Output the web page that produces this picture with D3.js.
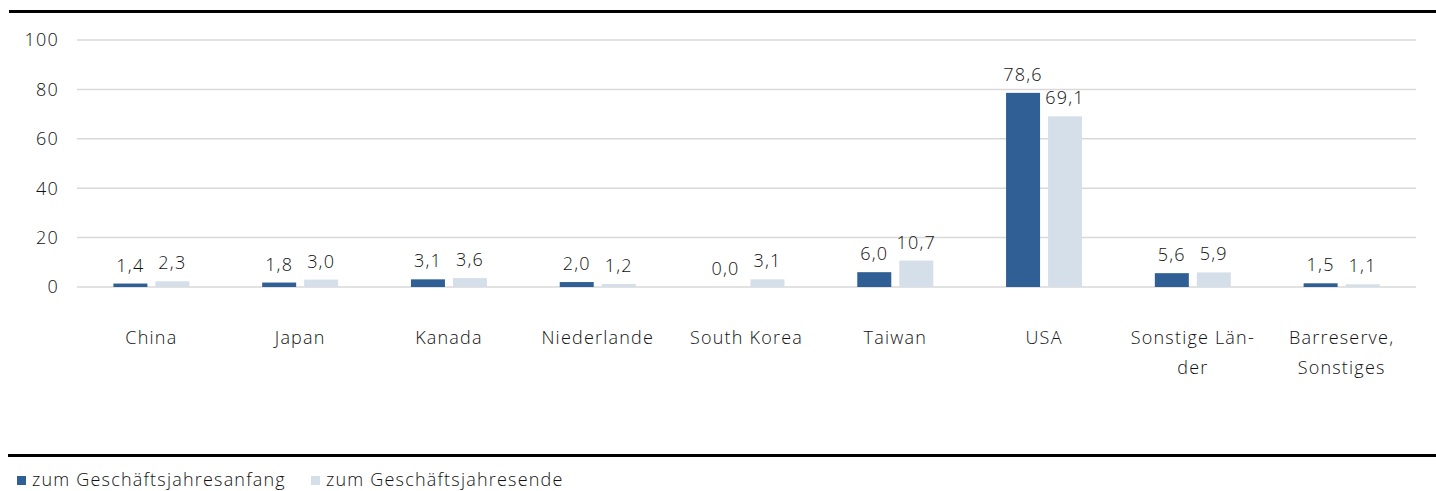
<!DOCTYPE html>
<html>
<head>
<meta charset="utf-8">
<script src="https://cdn.jsdelivr.net/npm/d3@7"></script>
<style>
  body { margin: 0; background: #fff; }
  text { font-family: "Open Sans", "Noto Sans", sans-serif; font-weight: 300; fill: #111; letter-spacing: 1.2px; }
</style>
</head>
<body>
<div id="chart"></div>
<script>
"use strict";

var categories = ["China", "Japan", "Kanada", "Niederlande", "South Korea", "Taiwan", "USA", "Sonstige Län-|der", "Barreserve,|Sonstiges"];
var seriesNames = ["zum Geschäftsjahresanfang", "zum Geschäftsjahresende"];
var valuesStart = [1.4, 1.8, 3.1, 2.0, 0.0, 6.0, 78.6, 5.6, 1.5];
var valuesEnd = [2.3, 3.0, 3.6, 1.2, 3.1, 10.7, 69.1, 5.9, 1.1];
var yTicks = [0, 20, 40, 60, 80, 100];
var colors = ["#2f5f94", "#d5dfea"];

var width = 1436;
var height = 491;
var margin = {top: 40, right: 20, bottom: 204, left: 77};

var svg = d3.select("#chart").append("svg")
	.attr("width", width)
	.attr("height", height);

var fmt = function(v) { return d3.format(".1f")(v).replace(".", ","); };

// black rules top and bottom
svg.append("rect").attr("x", 9).attr("y", 10).attr("width", width - 9).attr("height", 3).attr("fill", "#000");
svg.append("rect").attr("x", 8).attr("y", 454).attr("width", width - 8).attr("height", 3).attr("fill", "#000");

var x = d3.scaleBand()
	.domain(categories)
	.range([margin.left, 1416]);

var y = d3.scaleLinear()
	.domain([0, 100])
	.range([287, 40]);

var g = svg.append("g");

g.selectAll("line.grid")
	.data(yTicks)
	.enter()
	.append("line")
	.attr("class", "grid")
	.attr("x1", margin.left)
	.attr("x2", 1416)
	.attr("y1", function(d) { return y(d); })
	.attr("y2", function(d) { return y(d); })
	.attr("stroke", "#d9d9d9")
	.attr("stroke-width", 1.5);

g.selectAll("text.ytick")
	.data(yTicks)
	.enter()
	.append("text")
	.attr("class", "ytick")
	.attr("x", 59)
	.attr("y", function(d) { return y(d); })
	.attr("dy", "0.35em")
	.attr("text-anchor", "end")
	.style("font-size", "18px")
	.text(function(d) { return d; });

var barW = 34, gap = 8;
var series = [valuesStart, valuesEnd];

series.forEach(function(vals, si) {
	var off = si === 0 ? -gap / 2 - barW : gap / 2;
	g.selectAll("rect.s" + si)
		.data(vals)
		.enter()
		.append("rect")
		.attr("class", "s" + si)
		.attr("x", function(d, i) { return x(categories[i]) + x.bandwidth() / 2 + off; })
		.attr("y", function(d) { return y(d); })
		.attr("width", barW)
		.attr("height", function(d) { return y(0) - y(d); })
		.attr("fill", colors[si]);

	g.selectAll("text.l" + si)
		.data(vals)
		.enter()
		.append("text")
		.attr("class", "l" + si)
		.attr("x", function(d, i) { return x(categories[i]) + x.bandwidth() / 2 + off + barW / 2; })
		.attr("y", function(d) { return y(d) - 12; })
		.attr("text-anchor", "middle")
		.style("font-size", "18px")
		.text(function(d) { return fmt(d); });
});

// category labels
var cat = g.selectAll("text.cat")
	.data(categories)
	.enter()
	.append("text")
	.attr("class", "cat")
	.attr("text-anchor", "middle")
	.style("font-size", "18px")
	.attr("transform", function(d) { return "translate(" + (x(d) + x.bandwidth() / 2) + ",344)"; });

cat.selectAll("tspan")
	.data(function(d) { return d.split("|"); })
	.enter()
	.append("tspan")
	.attr("x", 0)
	.attr("dy", function(d, i) { return i === 0 ? 0 : 30; })
	.text(function(d) { return d; });

// legend
var legend = svg.append("g").attr("transform", "translate(17,481)");
var legX = [0, 294];
seriesNames.forEach(function(name, i) {
	legend.append("rect")
		.attr("x", legX[i])
		.attr("y", -5)
		.attr("width", 9)
		.attr("height", 9)
		.attr("fill", colors[i]);
	legend.append("text")
		.attr("x", legX[i] + 15)
		.attr("y", 0)
		.attr("dy", "0.3em")
		.style("font-size", "18px")
		.text(name);
});
</script>
</body>
</html>
